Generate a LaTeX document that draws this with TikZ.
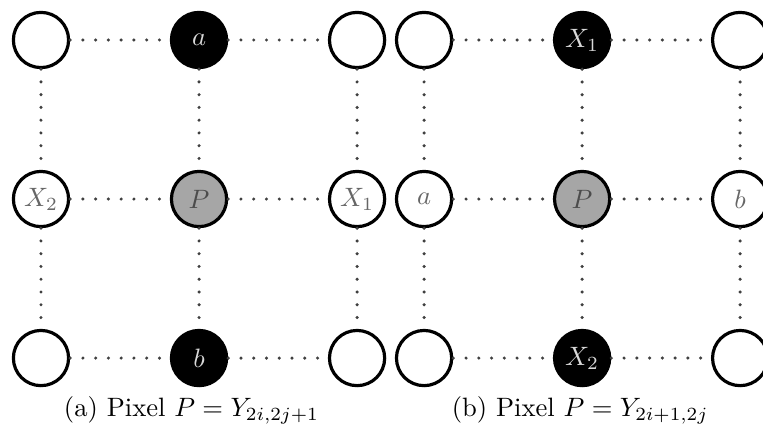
\documentclass[tikz,border=0pt]{standalone}

\begin{document}
\begin{tikzpicture}[line width=1.2pt,
  pix/.style={circle, draw, minimum size=0.73cm, inner sep=0pt, fill=white, text=black!60},
  negro/.style={pix, fill=black, text=black!15},
  gris/.style={pix, fill=black!35, text=black!70},
  punteado/.style={line width=1.3pt, line cap=round, dash pattern=on 0pt off 4.8pt, black!75}]
  \useasboundingbox (0,0) rectangle (10.09,5.714);
  % rejilla (a)
  \node[pix]   (a11) at (0.542,5.185) {};
  \node[negro] (a12) at (2.632,5.185) {$a$};
  \node[pix]   (a13) at (4.722,5.185) {};
  \node[pix]   (a21) at (0.542,3.082) {$X_2$};
  \node[gris]  (a22) at (2.632,3.082) {$P$};
  \node[pix]   (a23) at (4.722,3.082) {$X_1$};
  \node[pix]   (a31) at (0.542,0.979) {};
  \node[negro] (a32) at (2.632,0.979) {$b$};
  \node[pix]   (a33) at (4.722,0.979) {};
  \draw[punteado] (a11) -- (a12) -- (a13) (a21) -- (a22) -- (a23) (a31) -- (a32) -- (a33)
    (a11) -- (a21) -- (a31) (a12) -- (a22) -- (a32) (a13) -- (a23) -- (a33);
  % rejilla (b)
  \node[pix]   (b11) at (5.608,5.185) {};
  \node[negro] (b12) at (7.698,5.185) {$X_1$};
  \node[pix]   (b13) at (9.788,5.185) {};
  \node[pix]   (b21) at (5.608,3.082) {$a$};
  \node[gris]  (b22) at (7.698,3.082) {$P$};
  \node[pix]   (b23) at (9.788,3.082) {$b$};
  \node[pix]   (b31) at (5.608,0.979) {};
  \node[negro] (b32) at (7.698,0.979) {$X_2$};
  \node[pix]   (b33) at (9.788,0.979) {};
  \draw[punteado] (b11) -- (b12) -- (b13) (b21) -- (b22) -- (b23) (b31) -- (b32) -- (b33)
    (b11) -- (b21) -- (b31) (b12) -- (b22) -- (b32) (b13) -- (b23) -- (b33);
  % leyendas
  \node[anchor=base] (capa) at (2.533,0.212) {(a) Pixel $P=Y_{2i,2j+1}$};
  \node[anchor=base] (capb) at (7.672,0.212) {(b) Pixel $P=Y_{2i+1,2j}$};
\end{tikzpicture}
\end{document}
